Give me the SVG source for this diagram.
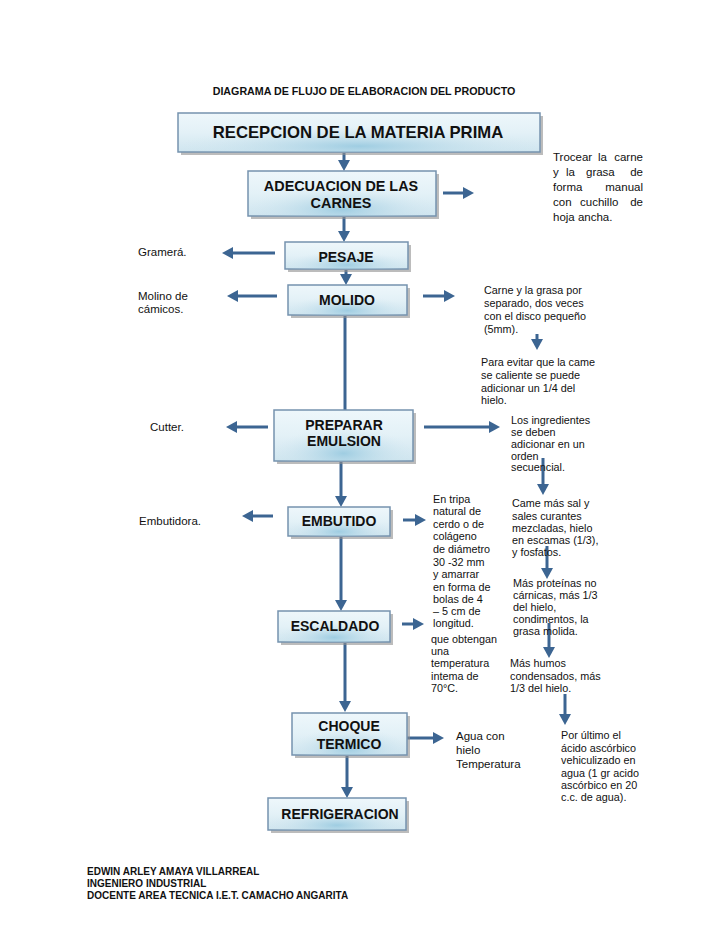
<svg xmlns="http://www.w3.org/2000/svg" width="728" height="943" viewBox="0 0 728 943">
<style>
.sh{fill:#8f8f8f;opacity:.6}
.box{fill:url(#gb);stroke:#7592ae;stroke-width:1.5}
.glow{fill:url(#gr)}
.bt{font-family:"Liberation Sans",Arial,sans-serif;font-weight:bold;font-size:14px;text-anchor:middle;fill:#111}
.nt{font-family:"Liberation Sans",Arial,sans-serif;font-size:10.8px;fill:#111}
.nl{font-family:"Liberation Sans",Arial,sans-serif;font-size:11.5px;fill:#111}
.hd{font-family:"Liberation Sans",Arial,sans-serif;font-weight:bold;fill:#111}
.ar{stroke:#3c6592;stroke-width:3;fill:none;marker-end:url(#ah)}
</style>
<defs>
<linearGradient id="gb" x1="0" y1="0" x2="0" y2="1">
<stop offset="0" stop-color="#eef7fb"/>
<stop offset="0.5" stop-color="#e3f1f7"/>
<stop offset="1" stop-color="#cfe5ef"/>
</linearGradient>
<radialGradient id="gr" cx="0.5" cy="0.85" r="0.5" fx="0.5" fy="0.85">
<stop offset="0" stop-color="#95c8df" stop-opacity="0.85"/>
<stop offset="1" stop-color="#cfe5ef" stop-opacity="0"/>
</radialGradient>
<marker id="ah" markerUnits="userSpaceOnUse" markerWidth="11" markerHeight="12" viewBox="0 0 11 12" refX="7" refY="6" orient="auto">
<path d="M0,0 L11,6 L0,12 z" fill="#3c6592"/>
</marker>
</defs>
<rect width="728" height="943" fill="#fff"/>
<text class="hd" x="364" y="95" style="font-size:10.7px" text-anchor="middle">DIAGRAMA DE FLUJO DE ELABORACION DEL PRODUCTO</text>

<g id="connectors">
<line class="ar" x1="344" y1="153" x2="344" y2="167"/>
<line class="ar" x1="344" y1="217" x2="344" y2="238"/>
<line class="ar" x1="346" y1="270" x2="346" y2="281"/>
<line class="ar" x1="345" y1="316" x2="345" y2="422"/>
<line class="ar" x1="341" y1="462" x2="341" y2="503"/>
<line class="ar" x1="341" y1="537" x2="341" y2="607"/>
<line class="ar" x1="345" y1="643" x2="345" y2="708"/>
<line class="ar" x1="347" y1="756" x2="347" y2="794"/>
<line class="ar" x1="443" y1="193" x2="470" y2="193"/>
<line class="ar" x1="275" y1="253" x2="226" y2="253"/>
<line class="ar" x1="277" y1="296" x2="231" y2="296"/>
<line class="ar" x1="423" y1="296" x2="451" y2="296"/>
<line class="ar" x1="537" y1="334" x2="537" y2="346"/>
<line class="ar" x1="268" y1="427" x2="230" y2="427"/>
<line class="ar" x1="424" y1="427" x2="496" y2="427"/>
<line class="ar" x1="543" y1="458" x2="543" y2="491"/>
<line class="ar" x1="273" y1="516" x2="246" y2="516"/>
<line class="ar" x1="403" y1="520" x2="422" y2="520"/>
<line class="ar" x1="547" y1="546" x2="547" y2="575"/>
<line class="ar" x1="402" y1="624" x2="420" y2="624"/>
<line class="ar" x1="549" y1="623" x2="549" y2="654"/>
<line class="ar" x1="565" y1="694" x2="565" y2="721"/>
<line class="ar" x1="407" y1="738" x2="440" y2="738"/>
</g>

<g id="recepcion">
<rect class="sh" x="181" y="116" width="362" height="39"/>
<rect class="box" x="178" y="113" width="362" height="39"/>
<rect class="glow" x="178" y="113" width="362" height="39"/>
<text class="bt" x="358" y="138" style="font-size:16.7px">RECEPCION DE LA MATERIA PRIMA</text>
</g>
<g id="adecuacion">
<rect class="sh" x="251" y="174" width="188" height="45"/>
<rect class="box" x="248" y="171" width="188" height="45"/>
<rect class="glow" x="248" y="171" width="188" height="45"/>
<text class="bt" x="341" y="191" style="font-size:14.4px">ADECUACION DE LAS</text>
<text class="bt" x="341" y="208" style="font-size:14.4px">CARNES</text>
</g>
<g id="pesaje">
<rect class="sh" x="288" y="245" width="123" height="27"/>
<rect class="box" x="285" y="242" width="123" height="27"/>
<rect class="glow" x="285" y="242" width="123" height="27"/>
<text class="bt" x="346" y="262">PESAJE</text>
</g>
<g id="molido">
<rect class="sh" x="291" y="288" width="119" height="30"/>
<rect class="box" x="288" y="285" width="119" height="30"/>
<rect class="glow" x="288" y="285" width="119" height="30"/>
<text class="bt" x="347" y="305">MOLIDO</text>
</g>
<g id="preparar">
<rect class="sh" x="277" y="413" width="139" height="51"/>
<rect class="box" x="274" y="410" width="139" height="51"/>
<rect class="glow" x="274" y="410" width="139" height="51"/>
<text class="bt" x="344" y="430">PREPARAR</text>
<text class="bt" x="344" y="446">EMULSION</text>
</g>
<g id="embutido">
<rect class="sh" x="291" y="510" width="102" height="29"/>
<rect class="box" x="288" y="507" width="102" height="29"/>
<rect class="glow" x="288" y="507" width="102" height="29"/>
<text class="bt" x="339" y="526">EMBUTIDO</text>
</g>
<g id="escaldado">
<rect class="sh" x="281" y="614" width="112" height="31"/>
<rect class="box" x="278" y="611" width="112" height="31"/>
<rect class="glow" x="278" y="611" width="112" height="31"/>
<text class="bt" x="335" y="631">ESCALDADO</text>
</g>
<g id="choque">
<rect class="sh" x="295" y="716" width="115" height="42"/>
<rect class="box" x="292" y="713" width="115" height="42"/>
<rect class="glow" x="292" y="713" width="115" height="42"/>
<text class="bt" x="349" y="731">CHOQUE</text>
<text class="bt" x="349" y="749">TERMICO</text>
</g>
<g id="refrigeracion">
<rect class="sh" x="271" y="801" width="138" height="32"/>
<rect class="box" x="268" y="798" width="138" height="32"/>
<rect class="glow" x="268" y="798" width="138" height="32"/>
<text class="bt" x="340" y="819">REFRIGERACION</text>
</g>

<g id="notes">
<text class="nl" y="161"><tspan x="553">Trocear</tspan><tspan x="598">la</tspan><tspan x="643" text-anchor="end">carne</tspan></text>
<text class="nl" y="176"><tspan x="553">y</tspan><tspan x="566">la</tspan><tspan x="586">grasa</tspan><tspan x="643" text-anchor="end">de</tspan></text>
<text class="nl" y="191"><tspan x="553">forma</tspan><tspan x="643" text-anchor="end">manual</tspan></text>
<text class="nl" y="206"><tspan x="553">con</tspan><tspan x="580">cuchillo</tspan><tspan x="643" text-anchor="end">de</tspan></text>
<text class="nl" x="553" y="221">hoja ancha.</text>

<text class="nl" x="138" y="256">Gramerá.</text>
<text class="nl" x="138" y="300">Molino de</text>
<text class="nl" x="138" y="313">cámicos.</text>

<text class="nt"><tspan x="484" y="294">Carne y la grasa por</tspan><tspan x="484" y="307">separado, dos veces</tspan><tspan x="484" y="320">con el disco pequeño</tspan><tspan x="484" y="333">(5mm).</tspan></text>
<text class="nt"><tspan x="481" y="366">Para evitar que la came</tspan><tspan x="481" y="379">se caliente se puede</tspan><tspan x="481" y="392">adicionar un 1/4 del</tspan><tspan x="481" y="404">hielo.</tspan></text>

<text class="nl" x="150" y="431">Cutter.</text>
<text class="nt"><tspan x="511" y="424">Los ingredientes</tspan><tspan x="511" y="436">se deben</tspan><tspan x="511" y="448">adicionar en un</tspan><tspan x="511" y="460">orden</tspan><tspan x="511" y="471">secuencial.</tspan></text>

<text class="nl" x="139" y="525">Embutidora.</text>
<text class="nt"><tspan x="433" y="503">En tripa</tspan><tspan x="433" y="515">natural de</tspan><tspan x="433" y="528">cerdo o de</tspan><tspan x="433" y="540">colágeno</tspan><tspan x="433" y="553">de diámetro</tspan><tspan x="433" y="566">30 -32 mm</tspan><tspan x="433" y="578">y amarrar</tspan><tspan x="433" y="591">en forma de</tspan><tspan x="433" y="603">bolas de 4</tspan><tspan x="433" y="615">– 5 cm de</tspan><tspan x="433" y="627">longitud.</tspan></text>
<text class="nt"><tspan x="431" y="643">que obtengan</tspan><tspan x="431" y="655">una</tspan><tspan x="431" y="667">temperatura</tspan><tspan x="431" y="680">intema de</tspan><tspan x="431" y="692">70°C.</tspan></text>

<text class="nt"><tspan x="512" y="507">Came más sal y</tspan><tspan x="512" y="520">sales curantes</tspan><tspan x="512" y="532">mezcladas, hielo</tspan><tspan x="512" y="544">en escamas (1/3),</tspan><tspan x="512" y="556">y fosfatos.</tspan></text>
<text class="nt"><tspan x="513" y="587">Más proteínas no</tspan><tspan x="513" y="599">cárnicas, más 1/3</tspan><tspan x="513" y="611">del hielo,</tspan><tspan x="513" y="623">condimentos, la</tspan><tspan x="513" y="635">grasa molida.</tspan></text>
<text class="nt"><tspan x="510" y="667">Más humos</tspan><tspan x="510" y="680">condensados, más</tspan><tspan x="510" y="692">1/3 del hielo.</tspan></text>

<text class="nl"><tspan x="456" y="740">Agua con</tspan><tspan x="456" y="754">hielo</tspan><tspan x="456" y="768">Temperatura</tspan></text>
<text class="nt"><tspan x="561" y="739">Por último el</tspan><tspan x="561" y="752">ácido ascórbico</tspan><tspan x="561" y="764">vehiculizado en</tspan><tspan x="561" y="777">agua (1 gr acido</tspan><tspan x="561" y="789">ascórbico en 20</tspan><tspan x="561" y="801">c.c. de agua).</tspan></text>
</g>

<g id="footer">
<text class="hd" style="font-size:10px"><tspan x="87" y="875">EDWIN ARLEY AMAYA VILLARREAL</tspan><tspan x="87" y="887">INGENIERO INDUSTRIAL</tspan><tspan x="87" y="899">DOCENTE AREA TECNICA I.E.T. CAMACHO ANGARITA</tspan></text>
</g>
</svg>
